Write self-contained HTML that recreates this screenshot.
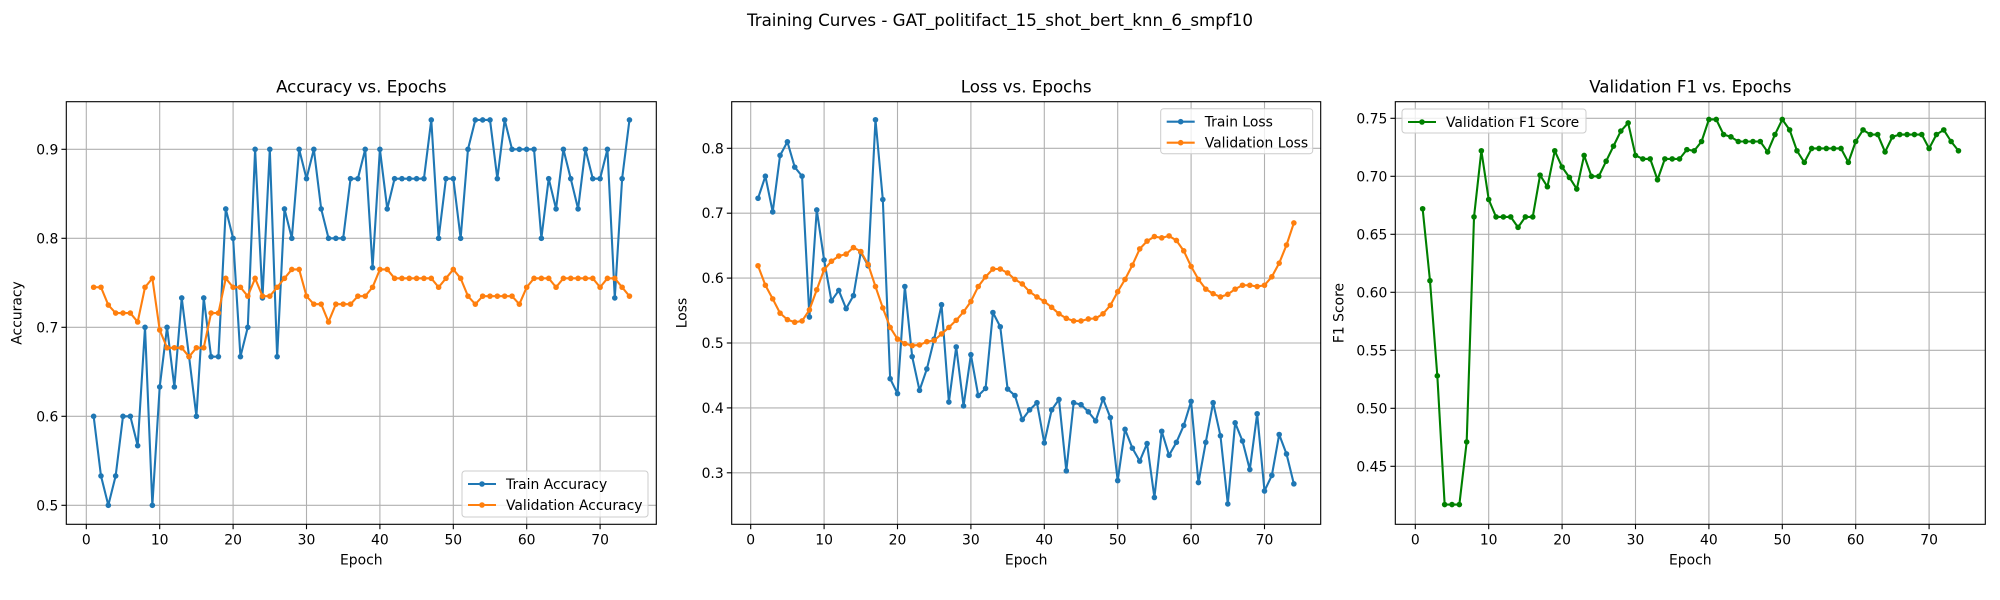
<!DOCTYPE html>
<html><head><meta charset="utf-8"><style>
html,body{margin:0;padding:0;background:#fff;}
svg{display:block;font-family:"DejaVu Sans","Liberation Sans",sans-serif;}
</style></head><body>
<svg id="fig" width="2000" height="600" viewBox="0 0 2000 600" xmlns="http://www.w3.org/2000/svg">
<rect width="2000" height="600" fill="#fff"/>
<text x="1000" y="26" text-anchor="middle" font-size="16.7">Training Curves - GAT_politifact_15_shot_bert_knn_6_smpf10</text>
</svg>
<script>
const epochs = Array.from({length:74},(_,i)=>i+1);
const trainAcc = [0.6,0.533,0.5,0.533,0.6,0.6,0.567,0.7,0.5,0.633,0.7,0.633,0.733,0.667,0.6,0.733,0.667,0.667,0.833,0.8,0.667,0.7,0.9,0.733,0.9,0.667,0.833,0.8,0.9,0.867,0.9,0.833,0.8,0.8,0.8,0.867,0.867,0.9,0.767,0.9,0.833,0.867,0.867,0.867,0.867,0.867,0.933,0.8,0.867,0.867,0.8,0.9,0.933,0.933,0.933,0.867,0.933,0.9,0.9,0.9,0.9,0.8,0.867,0.833,0.9,0.867,0.833,0.9,0.867,0.867,0.9,0.733,0.867,0.933];
const valAcc = [0.745,0.745,0.725,0.716,0.716,0.716,0.706,0.745,0.755,0.697,0.677,0.677,0.677,0.667,0.677,0.677,0.716,0.716,0.755,0.745,0.745,0.735,0.755,0.735,0.735,0.745,0.755,0.765,0.765,0.735,0.726,0.726,0.706,0.726,0.726,0.726,0.735,0.735,0.745,0.765,0.765,0.755,0.755,0.755,0.755,0.755,0.755,0.745,0.755,0.765,0.755,0.735,0.726,0.735,0.735,0.735,0.735,0.735,0.726,0.745,0.755,0.755,0.755,0.745,0.755,0.755,0.755,0.755,0.755,0.745,0.755,0.755,0.745,0.735];
const trainLoss = [0.723,0.757,0.702,0.789,0.810,0.771,0.757,0.540,0.705,0.628,0.565,0.581,0.553,0.573,0.640,0.619,0.844,0.721,0.445,0.422,0.587,0.479,0.427,0.460,0.506,0.559,0.409,0.494,0.403,0.482,0.419,0.430,0.547,0.525,0.429,0.419,0.382,0.397,0.408,0.346,0.397,0.413,0.303,0.408,0.405,0.394,0.380,0.414,0.385,0.288,0.367,0.338,0.318,0.345,0.262,0.364,0.327,0.347,0.373,0.410,0.285,0.347,0.408,0.357,0.252,0.377,0.349,0.305,0.391,0.272,0.296,0.359,0.329,0.283];
const valLoss = [0.619,0.589,0.568,0.546,0.536,0.532,0.534,0.551,0.582,0.613,0.626,0.634,0.637,0.647,0.641,0.621,0.587,0.554,0.524,0.506,0.499,0.496,0.497,0.502,0.504,0.514,0.524,0.535,0.548,0.564,0.587,0.602,0.614,0.614,0.608,0.598,0.591,0.579,0.571,0.564,0.555,0.545,0.538,0.534,0.534,0.537,0.538,0.545,0.558,0.579,0.598,0.620,0.645,0.657,0.664,0.662,0.665,0.658,0.642,0.618,0.598,0.583,0.576,0.571,0.575,0.583,0.589,0.589,0.587,0.589,0.602,0.623,0.651,0.685];
const valF1 = [0.672,0.610,0.528,0.417,0.417,0.417,0.471,0.665,0.722,0.680,0.665,0.665,0.665,0.656,0.665,0.665,0.701,0.691,0.722,0.708,0.699,0.689,0.718,0.700,0.700,0.713,0.726,0.739,0.746,0.718,0.715,0.715,0.697,0.715,0.715,0.715,0.723,0.722,0.730,0.749,0.749,0.736,0.734,0.730,0.730,0.730,0.730,0.721,0.736,0.749,0.740,0.722,0.712,0.724,0.724,0.724,0.724,0.724,0.712,0.730,0.740,0.736,0.736,0.721,0.734,0.736,0.736,0.736,0.736,0.724,0.736,0.740,0.730,0.722];
const xTicks = [0,10,20,30,40,50,60,70];
const accTicks = [0.5,0.6,0.7,0.8,0.9];
const lossTicks = [0.3,0.4,0.5,0.6,0.7,0.8];
const f1Ticks = [0.45,0.50,0.55,0.60,0.65,0.70,0.75];

const NS = "http://www.w3.org/2000/svg";
const fig = document.getElementById('fig');
function mk(tag, attrs, parent){
  const e = document.createElementNS(NS, tag);
  for (const k in attrs) e.setAttribute(k, attrs[k]);
  (parent||fig).appendChild(e);
  return e;
}
const TOP = 101.7, BOT = 524.3, PX_EPOCH = 7.34;

function drawPanel(p){
  const g = mk('g', {});
  
  
  const xs = e => p.x0 + e*PX_EPOCH;
  const ys = v => p.yRef - (v - p.vRef)*p.pxUnit;
  // grid
  xTicks.forEach(t=>{
    const l = mk('line',{x1:xs(t),x2:xs(t),y1:TOP,y2:BOT,stroke:'#b0b0b0','stroke-width':1.1},g);
    
    
    const tk = mk('line',{x1:xs(t),x2:xs(t),y1:BOT,y2:BOT+4.9,stroke:'#000','stroke-width':1.1},g);
    
    
    const tx = mk('text',{x:xs(t),y:BOT+20,'text-anchor':'middle','font-size':13.9},g);
    tx.textContent = t;
    
    
  });
  p.yTicks.forEach(t=>{
    const l = mk('line',{x1:p.left,x2:p.right,y1:ys(t),y2:ys(t),stroke:'#b0b0b0','stroke-width':1.1},g);
    
    
    const tk = mk('line',{x1:p.left-4.9,x2:p.left,y1:ys(t),y2:ys(t),stroke:'#000','stroke-width':1.1},g);
    
    
    const tx = mk('text',{x:p.left-8,y:ys(t)+5,'text-anchor':'end','font-size':13.9},g);
    tx.textContent = t.toFixed(p.dec);
    
    
  });
  // series
  p.series.forEach(s=>{
    const sg = mk('g',{},g);
    
    
    const pts = s.data.map((v,i)=>xs(epochs[i]).toFixed(2)+','+ys(v).toFixed(2)).join(' ');
    const pl = mk('polyline',{points:pts,fill:'none',stroke:s.color,'stroke-width':2.1,'stroke-linejoin':'round'},sg);
    
    
    s.data.forEach((v,i)=>{
      const c = mk('circle',{cx:xs(epochs[i]),cy:ys(v),r:2.8,fill:s.color},sg);
      
      
    });
  });
  // frame
  const fr = mk('rect',{x:p.left,y:TOP,width:p.right-p.left,height:BOT-TOP,fill:'none',stroke:'#000','stroke-width':1.1},g);
  
  
  const ti = mk('text',{x:(p.left+p.right)/2,y:TOP-9,'text-anchor':'middle','font-size':16.7},g);
  ti.textContent = p.title;
  
  
  const xl = mk('text',{x:(p.left+p.right)/2,y:BOT+40,'text-anchor':'middle','font-size':13.9},g);
  xl.textContent = 'Epoch';
  
  
  const yx = p.left - p.ylabOff, yy = (TOP+BOT)/2;
  const yl = mk('text',{x:yx,y:yy,'text-anchor':'middle','font-size':13.9,transform:`rotate(-90 ${yx} ${yy})`},g);
  yl.textContent = p.ylabel;
  
  
  // legend
  const L = p.legend;
  const lg = mk('g',{},g);
  
  
  mk('rect',{x:L.x,y:L.y,width:L.w,height:L.h,rx:3,fill:'#fff','fill-opacity':0.8,stroke:'#cccccc','stroke-width':1},lg);
  p.series.forEach((s,i)=>{
    const cy = L.y + 13 + i*21;
    const e = mk('g',{},lg);
    
    
    mk('line',{x1:L.x+6,x2:L.x+34,y1:cy,y2:cy,stroke:s.color,'stroke-width':2.1},e);
    mk('circle',{cx:L.x+20,cy:cy,r:2.8,fill:s.color},e);
    const t = mk('text',{x:L.x+44,y:cy+5,'font-size':13.9},e);
    t.textContent = s.label;
  });
}

drawPanel({name:'accuracy-panel',title:'Accuracy vs. Epochs',ylabel:'Accuracy',left:66.3,right:656.3,x0:86.3,
  yRef:149.3,vRef:0.9,pxUnit:890,yTicks:accTicks,dec:1,ylabOff:45,
  legend:{x:462,y:471,w:186,h:46},
  series:[{key:'train-accuracy',label:'Train Accuracy',data:trainAcc,color:'#1f77b4'},
          {key:'validation-accuracy',label:'Validation Accuracy',data:valAcc,color:'#ff7f0e'}]});
drawPanel({name:'loss-panel',title:'Loss vs. Epochs',ylabel:'Loss',left:731.7,right:1320.7,x0:750.7,
  yRef:148.3,vRef:0.8,pxUnit:649,yTicks:lossTicks,dec:1,ylabOff:45,
  legend:{x:1160.7,y:108.7,w:152,h:45},
  series:[{key:'train-loss',label:'Train Loss',data:trainLoss,color:'#1f77b4'},
          {key:'validation-loss',label:'Validation Loss',data:valLoss,color:'#ff7f0e'}]});
drawPanel({name:'f1-panel',title:'Validation F1 vs. Epochs',ylabel:'F1 Score',left:1395.3,right:1985.3,x0:1415.3,
  yRef:118.3,vRef:0.75,pxUnit:1160,yTicks:f1Ticks,dec:2,ylabOff:52,
  legend:{x:1402,y:109,w:184,h:24},
  series:[{key:'validation-f1',label:'Validation F1 Score',data:valF1,color:'#008000'}]});
</script>
</body></html>
